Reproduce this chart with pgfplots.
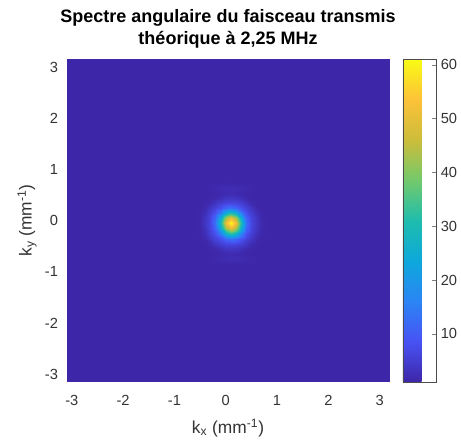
\documentclass[border=0pt]{standalone}
\usepackage{fontspec}
\setmainfont{Liberation Sans}
\usepackage{pgfplots}
\pgfplotsset{compat=1.18}
\begin{document}
\begin{tikzpicture}
\begin{axis}[
  at={(0,0)}, anchor=south west,
  scale only axis, width=242pt, height=241.8pt,
  xmin=-3.1, xmax=3.19, ymin=-3.15, ymax=3.16,
  enlargelimits=false,
  axis line style={draw=none},
  major tick length=0pt,
  xtick={-3,-2,-1,0,1,2,3}, ytick={-3,-2,-1,0,1,2,3},
  /pgf/number format/assume math mode=true,
  tick label style={font=\fontsize{11}{13}\selectfont, text=black!80},
  xticklabel style={anchor=base, yshift=-17.5pt},
  yticklabel style={anchor=east, xshift=-3pt},
  xlabel={k\textsubscript{x} (mm\textsuperscript{-1})},
  ylabel={k\textsubscript{y} (mm\textsuperscript{-1})},
  xlabel style={at={(axis description cs:0.5,-0.16)}, anchor=base, font=\fontsize{13}{15}\selectfont, text=black!80},
  ylabel style={at={(axis description cs:-0.1083,0.5)}, anchor=base, font=\fontsize{13}{15}\selectfont, text=black!80},
  title={Spectre angulaire du faisceau transmis\\théorique à 2,25 MHz},
  title style={at={(axis description cs:0.5,1)}, anchor=south, yshift=2.1pt, inner sep=0pt, align=center, font=\fontsize{13.5}{16.3}\selectfont\bfseries},
  colormap={parula}{rgb=(0.2422,0.1504,0.6603) rgb=(0.2810,0.3228,0.9579) rgb=(0.17,0.52,0.96) rgb=(0.05,0.66,0.86) rgb=(0.12,0.74,0.68) rgb=(0.45,0.79,0.42) rgb=(0.80,0.74,0.23) rgb=(0.99,0.76,0.22) rgb=(0.976,0.984,0.0805)},
  point meta min=1.1, point meta max=61,
  colorbar,
  colorbar style={
    width=25pt,
    at={(parent axis.north east)}, anchor=north west, xshift=1.5pt,
    ytick={10,20,30,40,50,60},
    ytick pos=right,
    tick align=inside,
    major tick length=3pt,
    axis line style={draw=black!70},
    /pgf/number format/assume math mode=true,
    yticklabel style={font=\fontsize{11}{13}\selectfont, text=black!80},
  },
]
\addplot[surf, shader=interp, mesh/rows=19, point meta=explicit] coordinates {
(-3.1,-3.15)[1.1] (-0.7,-3.15)[1.1] (-0.6,-3.15)[1.1] (-0.5,-3.15)[1.1] (-0.4,-3.15)[1.1] (-0.3,-3.15)[1.1] (-0.2,-3.15)[1.1] (-0.1,-3.15)[1.1] (0,-3.15)[1.1] (0.1,-3.15)[1.1] (0.2,-3.15)[1.1] (0.3,-3.15)[1.1] (0.4,-3.15)[1.1] (0.5,-3.15)[1.1] (0.6,-3.15)[1.1] (0.7,-3.15)[1.1] (0.8,-3.15)[1.1] (0.9,-3.15)[1.1] (3.19,-3.15)[1.1]

(-3.1,-0.85)[1.1] (-0.7,-0.85)[1.1] (-0.6,-0.85)[1.1] (-0.5,-0.85)[1.1] (-0.4,-0.85)[1.1] (-0.3,-0.85)[1.1] (-0.2,-0.85)[1.1] (-0.1,-0.85)[1.1] (0,-0.85)[1.1] (0.1,-0.85)[1.1] (0.2,-0.85)[1.1] (0.3,-0.85)[1.1] (0.4,-0.85)[1.1] (0.5,-0.85)[1.1] (0.6,-0.85)[1.1] (0.7,-0.85)[1.1] (0.8,-0.85)[1.1] (0.9,-0.85)[1.1] (3.19,-0.85)[1.1]

(-3.1,-0.75)[1.1] (-0.7,-0.75)[1.1] (-0.6,-0.75)[1.1] (-0.5,-0.75)[1.1] (-0.4,-0.75)[1.1] (-0.3,-0.75)[1.3] (-0.2,-0.75)[1.6] (-0.1,-0.75)[2.0] (0,-0.75)[2.2] (0.1,-0.75)[2.4] (0.2,-0.75)[2.2] (0.3,-0.75)[2.0] (0.4,-0.75)[1.6] (0.5,-0.75)[1.3] (0.6,-0.75)[1.1] (0.7,-0.75)[1.1] (0.8,-0.75)[1.1] (0.9,-0.75)[1.1] (3.19,-0.75)[1.1]

(-3.1,-0.65)[1.1] (-0.7,-0.65)[1.1] (-0.6,-0.65)[1.1] (-0.5,-0.65)[1.1] (-0.4,-0.65)[1.1] (-0.3,-0.65)[1.1] (-0.2,-0.65)[1.2] (-0.1,-0.65)[1.5] (0,-0.65)[1.8] (0.1,-0.65)[1.9] (0.2,-0.65)[1.8] (0.3,-0.65)[1.5] (0.4,-0.65)[1.2] (0.5,-0.65)[1.1] (0.6,-0.65)[1.1] (0.7,-0.65)[1.1] (0.8,-0.65)[1.1] (0.9,-0.65)[1.1] (3.19,-0.65)[1.1]

(-3.1,-0.55)[1.1] (-0.7,-0.55)[1.1] (-0.6,-0.55)[1.1] (-0.5,-0.55)[1.1] (-0.4,-0.55)[1.1] (-0.3,-0.55)[1.2] (-0.2,-0.55)[1.6] (-0.1,-0.55)[2.5] (0,-0.55)[3.4] (0.1,-0.55)[3.7] (0.2,-0.55)[3.4] (0.3,-0.55)[2.5] (0.4,-0.55)[1.6] (0.5,-0.55)[1.2] (0.6,-0.55)[1.1] (0.7,-0.55)[1.1] (0.8,-0.55)[1.1] (0.9,-0.55)[1.1] (3.19,-0.55)[1.1]

(-3.1,-0.45)[1.1] (-0.7,-0.45)[1.1] (-0.6,-0.45)[1.1] (-0.5,-0.45)[1.1] (-0.4,-0.45)[1.2] (-0.3,-0.45)[1.9] (-0.2,-0.45)[3.7] (-0.1,-0.45)[5.3] (0,-0.45)[6.2] (0.1,-0.45)[6.4] (0.2,-0.45)[6.2] (0.3,-0.45)[5.3] (0.4,-0.45)[3.7] (0.5,-0.45)[1.9] (0.6,-0.45)[1.2] (0.7,-0.45)[1.1] (0.8,-0.45)[1.1] (0.9,-0.45)[1.1] (3.19,-0.45)[1.1]

(-3.1,-0.35)[1.1] (-0.7,-0.35)[1.1] (-0.6,-0.35)[1.1] (-0.5,-0.35)[1.1] (-0.4,-0.35)[1.6] (-0.3,-0.35)[3.7] (-0.2,-0.35)[5.8] (-0.1,-0.35)[8.1] (0,-0.35)[11.5] (0.1,-0.35)[13.4] (0.2,-0.35)[11.5] (0.3,-0.35)[8.1] (0.4,-0.35)[5.8] (0.5,-0.35)[3.7] (0.6,-0.35)[1.6] (0.7,-0.35)[1.1] (0.8,-0.35)[1.1] (0.9,-0.35)[1.1] (3.19,-0.35)[1.1]

(-3.1,-0.25)[1.1] (-0.7,-0.25)[1.1] (-0.6,-0.25)[1.1] (-0.5,-0.25)[1.2] (-0.4,-0.25)[2.5] (-0.3,-0.25)[5.3] (-0.2,-0.25)[8.1] (-0.1,-0.25)[15.5] (0,-0.25)[25.8] (0.1,-0.25)[30.5] (0.2,-0.25)[25.8] (0.3,-0.25)[15.5] (0.4,-0.25)[8.1] (0.5,-0.25)[5.3] (0.6,-0.25)[2.5] (0.7,-0.25)[1.2] (0.8,-0.25)[1.1] (0.9,-0.25)[1.1] (3.19,-0.25)[1.1]

(-3.1,-0.15)[1.1] (-0.7,-0.15)[1.1] (-0.6,-0.15)[1.1] (-0.5,-0.15)[1.3] (-0.4,-0.15)[3.4] (-0.3,-0.15)[6.2] (-0.2,-0.15)[11.5] (-0.1,-0.15)[25.8] (0,-0.15)[43.0] (0.1,-0.15)[51.2] (0.2,-0.15)[43.0] (0.3,-0.15)[25.8] (0.4,-0.15)[11.5] (0.5,-0.15)[6.2] (0.6,-0.15)[3.4] (0.7,-0.15)[1.3] (0.8,-0.15)[1.1] (0.9,-0.15)[1.1] (3.19,-0.15)[1.1]

(-3.1,-0.05)[1.1] (-0.7,-0.05)[1.1] (-0.6,-0.05)[1.1] (-0.5,-0.05)[1.4] (-0.4,-0.05)[3.7] (-0.3,-0.05)[6.4] (-0.2,-0.05)[13.4] (-0.1,-0.05)[30.5] (0,-0.05)[51.2] (0.1,-0.05)[61.0] (0.2,-0.05)[51.2] (0.3,-0.05)[30.5] (0.4,-0.05)[13.4] (0.5,-0.05)[6.4] (0.6,-0.05)[3.7] (0.7,-0.05)[1.4] (0.8,-0.05)[1.1] (0.9,-0.05)[1.1] (3.19,-0.05)[1.1]

(-3.1,0.05)[1.1] (-0.7,0.05)[1.1] (-0.6,0.05)[1.1] (-0.5,0.05)[1.3] (-0.4,0.05)[3.4] (-0.3,0.05)[6.2] (-0.2,0.05)[11.5] (-0.1,0.05)[25.8] (0,0.05)[43.0] (0.1,0.05)[51.2] (0.2,0.05)[43.0] (0.3,0.05)[25.8] (0.4,0.05)[11.5] (0.5,0.05)[6.2] (0.6,0.05)[3.4] (0.7,0.05)[1.3] (0.8,0.05)[1.1] (0.9,0.05)[1.1] (3.19,0.05)[1.1]

(-3.1,0.15)[1.1] (-0.7,0.15)[1.1] (-0.6,0.15)[1.1] (-0.5,0.15)[1.2] (-0.4,0.15)[2.5] (-0.3,0.15)[5.3] (-0.2,0.15)[8.1] (-0.1,0.15)[15.5] (0,0.15)[25.8] (0.1,0.15)[30.5] (0.2,0.15)[25.8] (0.3,0.15)[15.5] (0.4,0.15)[8.1] (0.5,0.15)[5.3] (0.6,0.15)[2.5] (0.7,0.15)[1.2] (0.8,0.15)[1.1] (0.9,0.15)[1.1] (3.19,0.15)[1.1]

(-3.1,0.25)[1.1] (-0.7,0.25)[1.1] (-0.6,0.25)[1.1] (-0.5,0.25)[1.1] (-0.4,0.25)[1.6] (-0.3,0.25)[3.7] (-0.2,0.25)[5.8] (-0.1,0.25)[8.1] (0,0.25)[11.5] (0.1,0.25)[13.4] (0.2,0.25)[11.5] (0.3,0.25)[8.1] (0.4,0.25)[5.8] (0.5,0.25)[3.7] (0.6,0.25)[1.6] (0.7,0.25)[1.1] (0.8,0.25)[1.1] (0.9,0.25)[1.1] (3.19,0.25)[1.1]

(-3.1,0.35)[1.1] (-0.7,0.35)[1.1] (-0.6,0.35)[1.1] (-0.5,0.35)[1.1] (-0.4,0.35)[1.2] (-0.3,0.35)[1.9] (-0.2,0.35)[3.7] (-0.1,0.35)[5.3] (0,0.35)[6.2] (0.1,0.35)[6.4] (0.2,0.35)[6.2] (0.3,0.35)[5.3] (0.4,0.35)[3.7] (0.5,0.35)[1.9] (0.6,0.35)[1.2] (0.7,0.35)[1.1] (0.8,0.35)[1.1] (0.9,0.35)[1.1] (3.19,0.35)[1.1]

(-3.1,0.45)[1.1] (-0.7,0.45)[1.1] (-0.6,0.45)[1.1] (-0.5,0.45)[1.1] (-0.4,0.45)[1.1] (-0.3,0.45)[1.2] (-0.2,0.45)[1.6] (-0.1,0.45)[2.5] (0,0.45)[3.4] (0.1,0.45)[3.7] (0.2,0.45)[3.4] (0.3,0.45)[2.5] (0.4,0.45)[1.6] (0.5,0.45)[1.2] (0.6,0.45)[1.1] (0.7,0.45)[1.1] (0.8,0.45)[1.1] (0.9,0.45)[1.1] (3.19,0.45)[1.1]

(-3.1,0.55)[1.1] (-0.7,0.55)[1.1] (-0.6,0.55)[1.1] (-0.5,0.55)[1.1] (-0.4,0.55)[1.1] (-0.3,0.55)[1.1] (-0.2,0.55)[1.2] (-0.1,0.55)[1.5] (0,0.55)[1.8] (0.1,0.55)[1.9] (0.2,0.55)[1.8] (0.3,0.55)[1.5] (0.4,0.55)[1.2] (0.5,0.55)[1.1] (0.6,0.55)[1.1] (0.7,0.55)[1.1] (0.8,0.55)[1.1] (0.9,0.55)[1.1] (3.19,0.55)[1.1]

(-3.1,0.65)[1.1] (-0.7,0.65)[1.1] (-0.6,0.65)[1.1] (-0.5,0.65)[1.1] (-0.4,0.65)[1.1] (-0.3,0.65)[1.3] (-0.2,0.65)[1.6] (-0.1,0.65)[2.0] (0,0.65)[2.2] (0.1,0.65)[2.4] (0.2,0.65)[2.2] (0.3,0.65)[2.0] (0.4,0.65)[1.6] (0.5,0.65)[1.3] (0.6,0.65)[1.1] (0.7,0.65)[1.1] (0.8,0.65)[1.1] (0.9,0.65)[1.1] (3.19,0.65)[1.1]

(-3.1,0.75)[1.1] (-0.7,0.75)[1.1] (-0.6,0.75)[1.1] (-0.5,0.75)[1.1] (-0.4,0.75)[1.1] (-0.3,0.75)[1.1] (-0.2,0.75)[1.1] (-0.1,0.75)[1.1] (0,0.75)[1.1] (0.1,0.75)[1.1] (0.2,0.75)[1.1] (0.3,0.75)[1.1] (0.4,0.75)[1.1] (0.5,0.75)[1.1] (0.6,0.75)[1.1] (0.7,0.75)[1.1] (0.8,0.75)[1.1] (0.9,0.75)[1.1] (3.19,0.75)[1.1]

(-3.1,3.16)[1.1] (-0.7,3.16)[1.1] (-0.6,3.16)[1.1] (-0.5,3.16)[1.1] (-0.4,3.16)[1.1] (-0.3,3.16)[1.1] (-0.2,3.16)[1.1] (-0.1,3.16)[1.1] (0,3.16)[1.1] (0.1,3.16)[1.1] (0.2,3.16)[1.1] (0.3,3.16)[1.1] (0.4,3.16)[1.1] (0.5,3.16)[1.1] (0.6,3.16)[1.1] (0.7,3.16)[1.1] (0.8,3.16)[1.1] (0.9,3.16)[1.1] (3.19,3.16)[1.1]
};
\end{axis}
\pgfresetboundingbox
\path[use as bounding box] (-50pt,-44.5pt) rectangle (295.7pt,286.3pt);
\end{tikzpicture}
\end{document}
